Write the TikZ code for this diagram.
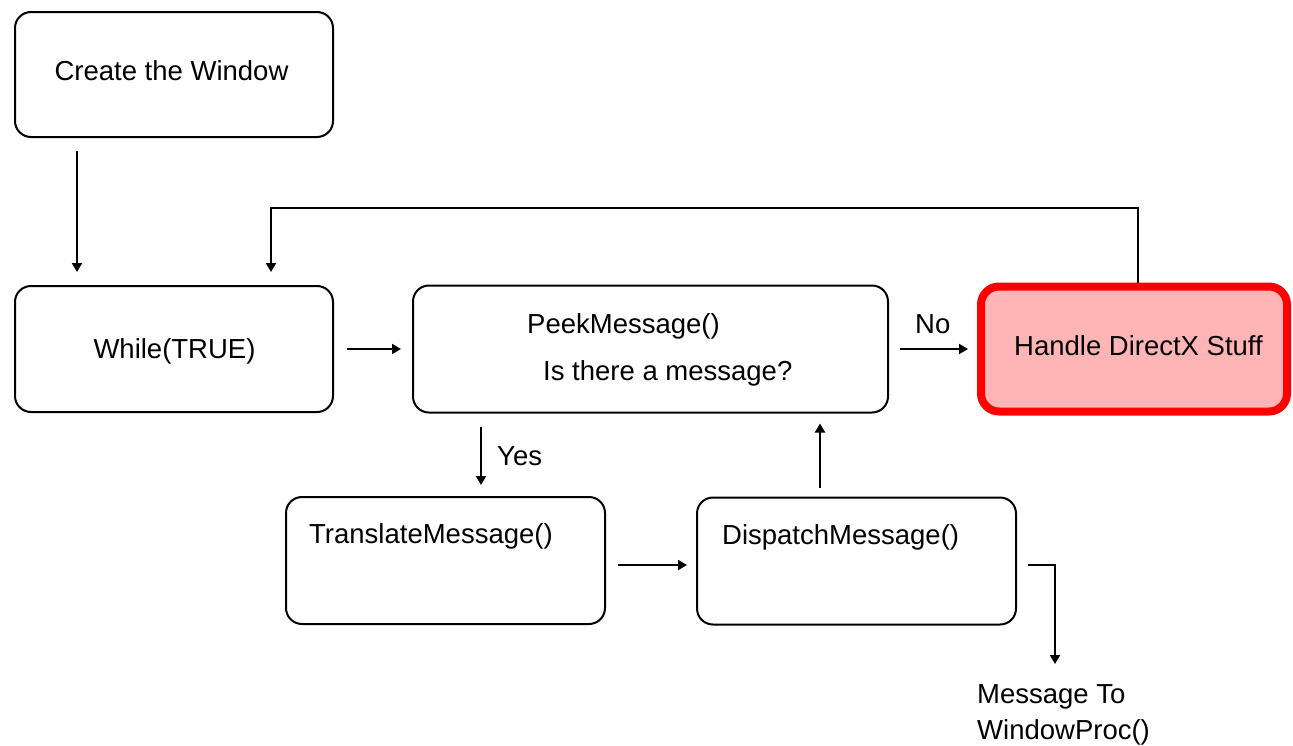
\documentclass[tikz,border=0pt]{standalone}
\usepackage{fontspec}
\setmainfont{Liberation Sans}
\usetikzlibrary{arrows.meta}
\definecolor{pinkfill}{RGB}{255,181,181}
\begin{document}
\begin{tikzpicture}[x=1pt,y=-1pt,
  box/.style={draw=black, line width=2pt, rounded corners=16pt, inner sep=0pt},
  hbox/.style={draw=red, fill=pinkfill, line width=8pt, rounded corners=18pt, inner sep=0pt},
  txt/.style={font=\fontsize{27.5}{36}\selectfont, inner sep=0pt},
  arr/.style={line width=2pt, -{Triangle[width=10pt,length=9pt]}}]
\fill[white] (0,0) rectangle (1293,745);
\useasboundingbox (0,0) rectangle (1293,745);
% boxes
\node[box, minimum width=318pt, minimum height=125pt] (create) at (174,74.5) {};
\node[box, minimum width=318pt, minimum height=126pt] (while) at (174,349) {};
\node[box, minimum width=475pt, minimum height=127pt] (peek) at (650.5,349) {};
\node[hbox, minimum width=306pt, minimum height=125pt] (handle) at (1134,349) {};
\node[box, minimum width=319pt, minimum height=127pt] (translate) at (445.5,560.5) {};
\node[box, minimum width=319pt, minimum height=127pt] (dispatch) at (856.5,561) {};
% texts
\node[txt, anchor=base] (tcreate) at (171.5,80) {Create the Window};
\node[txt, anchor=base] (twhile) at (174.5,358) {While(TRUE)};
\node[txt, anchor=base west] (tpeek1) at (527,333) {PeekMessage()};
\node[txt, anchor=base west] (tpeek2) at (543,380) {Is there a message?};
\node[txt, anchor=base] (thandle) at (1138.5,355) {Handle DirectX Stuff};
\node[txt, anchor=base west] (ttrans) at (309,543) {TranslateMessage()};
\node[txt, anchor=base west] (tdisp) at (722,544) {DispatchMessage()};
\node[txt, anchor=base west] (yes) at (497,465) {Yes};
\node[txt, anchor=base west] (no) at (915,333) {No};
\node[txt, anchor=base west] (msg1) at (977,703) {Message To};
\node[txt, anchor=base west] (msg2) at (977,739) {WindowProc()};
% coordinates
\coordinate (loopc) at (271,208);
\coordinate (msgin) at (1055,664);
% connectors
\draw[arr] ([xshift=63pt,yshift=-13pt]create.south west) -- ([xshift=63pt,yshift=13pt]while.north west);
\draw[arr] ([xshift=13pt]while.east) -- ([xshift=-11pt]peek.west);
\draw[arr] ([xshift=11pt]peek.east) -- ([xshift=-9pt]handle.west);
\draw[arr] ([xshift=4pt]handle.north) |- (loopc) -- ([xshift=257pt,yshift=13pt]while.north west);
\draw[arr] ([xshift=69pt,yshift=-13pt]peek.south west) -- ([xshift=196pt,yshift=11pt]translate.north west);
\draw[arr] ([xshift=12pt,yshift=-4.5pt]translate.east) -- ([xshift=-9pt,yshift=-4pt]dispatch.west);
\draw[arr] ([xshift=124pt,yshift=9pt]dispatch.north west) -- ([xshift=408pt,yshift=-10pt]peek.south west);
\draw[arr] ([xshift=11pt,yshift=-4pt]dispatch.east) -| (msgin);
\end{tikzpicture}
\end{document}
